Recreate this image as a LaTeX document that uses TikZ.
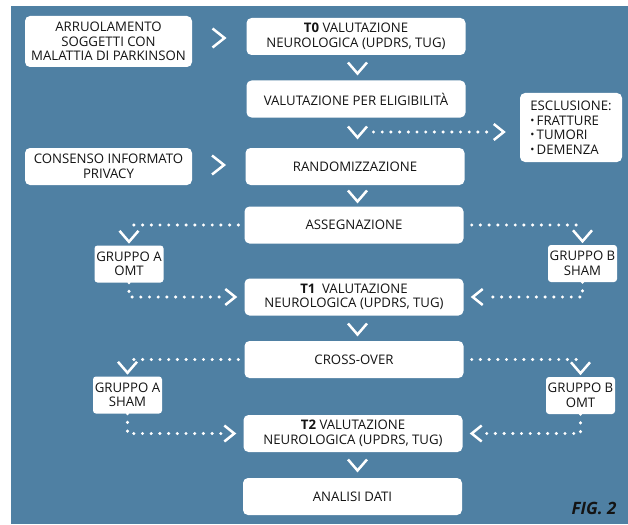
\documentclass[tikz,border=0pt]{standalone}
\usepackage{fontspec}
\setmainfont{Open Sans}
\usepackage{xcolor}
\usetikzlibrary{positioning}
\definecolor{bgblue}{RGB}{79,128,163}
\definecolor{ink}{RGB}{20,20,20}
\tikzset{
  % boxes
  stepbox/.style={fill=white,rounded corners=5pt,align=center,text=ink,inner sep=0pt,
    font=\fontsize{13.2}{14.5}\selectfont,minimum width=219pt,minimum height=37pt},
  sidebox/.style={stepbox,minimum width=167pt},
  grpbox/.style={stepbox,rounded corners=3pt,minimum width=69pt,minimum height=37pt},
  % chevrons and dotted links
  chev/.style={draw=white,line width=2.5pt},
  dotline/.style={white,line width=3.4pt,line cap=round,dash pattern=on 0pt off 8.7pt},
  pics/vchev/.style={code={\draw[chev] (-9.5,-5.5) -- (0,5.5) -- (9.5,-5.5);}},
  pics/rchev/.style={code={\draw[chev] (-6,-9.5) -- (6,0) -- (-6,9.5);}},
  pics/rchevs/.style={code={\draw[chev] (-5,-8) -- (5,0) -- (-5,8);}},
  pics/lchevs/.style={code={\draw[chev] (5,-8) -- (-5,0) -- (5,8);}},
}
\newcommand{\blt}{\raisebox{0.6pt}{\fontsize{11}{11}\selectfont•}\,}

\begin{document}
\begin{tikzpicture}[x=1pt,y=-1pt]
\fill[white] (0,0) rectangle (628,524);
\useasboundingbox (0,0) rectangle (628,524);
\fill[bgblue] (11,6) rectangle (628,524);

%% ===== colonna centrale =====
\node[stepbox] (t0)    at (356,36.5)  {\textbf{T0} VALUTAZIONE\\NEUROLOGICA (UPDRS, TUG)};
\node[stepbox] (elig)  at (356,99)    {VALUTAZIONE PER ELIGIBILITÀ};
\node[stepbox] (rand)  at (355,166.5) {RANDOMIZZAZIONE};
\node[stepbox] (ass)   at (354,225)   {ASSEGNAZIONE};
\node[stepbox] (t1)    at (354,297)   {\textbf{T1}\enspace VALUTAZIONE\\NEUROLOGICA (UPDRS, TUG)};
\node[stepbox] (cross) at (354,359.5) {CROSS-OVER};
\node[stepbox] (t2)    at (353,433.5) {\textbf{T2} VALUTAZIONE\\NEUROLOGICA (UPDRS, TUG)};
\node[stepbox] (anal)  at (352.5,496.5) {ANALISI DATI};

%% ===== box laterali =====
\node[sidebox,minimum height=51pt] (arr) at (108.5,41.5) {ARRUOLAMENTO\\SOGGETTI CON\\MALATTIA DI PARKINSON};
\node[sidebox] (cons) at (108.5,166.5) {CONSENSO INFORMATO\\PRIVACY};
\node[stepbox,align=left,minimum width=102pt,minimum height=69pt] (esc) at (571,127.5)
  {ESCLUSIONE:\\\blt FRATTURE\\\blt TUMORI\\\blt DEMENZA};

\node[grpbox] (grA1) at (129,264)   {GRUPPO A\\OMT};
\node[grpbox] (grB1) at (582.5,263.5) {GRUPPO B\\SHAM};
\node[grpbox] (grA2) at (127.5,395) {GRUPPO A\\SHAM};
\node[grpbox] (grB2) at (580.5,395.5) {GRUPPO B\\OMT};

%% chevron tra i passi
\pic at (357.5,68)  {vchev};
\pic at (357.5,132) {vchev};
\pic at (357.5,196) {vchev};
\pic at (357.5,329) {vchev};
\pic at (357.5,465) {vchev};
\pic at (218.5,38)  {rchev};
\pic at (218,165)   {rchev};

%% esclusione
\coordinate (ke) at (357.5,132);
\draw[dotline] ([xshift=16pt]ke) -- ([xshift=-30pt]esc.west |- ke);
\pic at ([xshift=-21pt]esc.west |- ke) {rchevs};

%% ===== assegnazione -> gruppi -> T1 =====
\draw[dotline] ([xshift=-6pt]ass.west) -- (grA1.north |- ass.west);
\pic at ([yshift=9pt]grA1.north) {vchev};
\draw[dotline] ([xshift=8pt]ass.east) -- (grB1.north |- ass.east);
\pic at ([yshift=9pt]grB1.north) {vchev};
\draw[dotline] (grA1.south) -- (grA1.south |- t1.west) -- ([xshift=-21pt]t1.west);
\pic at ([xshift=-14pt]t1.west) {rchevs};
\draw[dotline] (grB1.south) -- (grB1.south |- t1.east) -- ([xshift=21pt]t1.east);
\pic at ([xshift=14pt]t1.east) {lchevs};

%% ===== cross-over -> gruppi -> T2 =====
\draw[dotline] ([xshift=-6pt]cross.west) -- (grA2.north |- cross.west);
\pic at ([yshift=9pt]grA2.north) {vchev};
\draw[dotline] ([xshift=8pt]cross.east) -- (grB2.north |- cross.east);
\pic at ([yshift=9pt]grB2.north) {vchev};
\draw[dotline] (grA2.south) -- (grA2.south |- t2.west) -- ([xshift=-21pt]t2.west);
\pic at ([xshift=-14pt]t2.west) {rchevs};
\draw[dotline] (grB2.south) -- (grB2.south |- t2.east) -- ([xshift=21pt]t2.east);
\pic at ([xshift=14pt]t2.east) {lchevs};

\node[text=ink,font=\fontsize{17}{17}\selectfont\bfseries\itshape] (fig) at (594,508) {FIG. 2};
\end{tikzpicture}
\end{document}
